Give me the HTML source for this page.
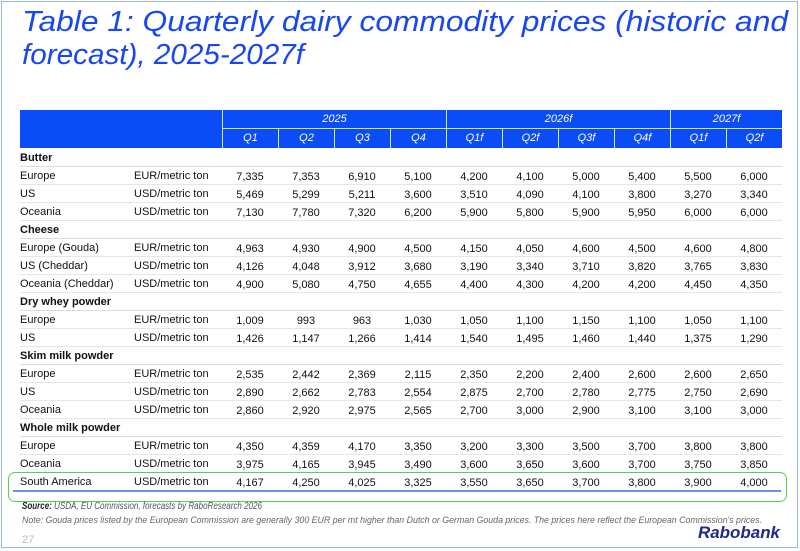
<!DOCTYPE html>
<html><head><meta charset="utf-8"><style>
body{margin:0;background:#fff;}
#wrap{position:relative;width:800px;height:551px;overflow:hidden;font-family:"Liberation Sans",sans-serif;}
.abs{position:absolute;}
.cell{position:absolute;font-size:11px;color:#111;line-height:18px;white-space:nowrap;}
.num{text-align:center;width:56px;}
.hd{position:absolute;color:#fff;font-style:italic;font-size:11px;text-align:center;}
</style></head><body>
<div id="wrap">
<div class="abs" style="left:1px;top:1px;width:795px;height:545px;border:1.5px solid #9db4e8;"></div>
<svg class="abs" style="left:0;top:0" width="800" height="80">
<text x="22" y="31" font-family="Liberation Sans" font-style="italic" font-size="29" fill="#1747f5" textLength="766" lengthAdjust="spacingAndGlyphs">Table 1: Quarterly dairy commodity prices (historic and</text>
<text x="22" y="64" font-family="Liberation Sans" font-style="italic" font-size="29" fill="#1747f5" textLength="282" lengthAdjust="spacingAndGlyphs">forecast), 2025-2027f</text>
</svg>
<div id="table"></div>
<div class="abs" style="left:8px;top:472px;width:777px;height:28px;border:1.5px solid #55d055;border-radius:7px;"></div>
<div class="abs" style="left:13px;top:490px;width:768px;height:2px;background:#6e90e6;"></div>
<svg class="abs" style="left:0;top:496px" width="800" height="55">
<text x="22" y="13" font-family="Liberation Sans" font-style="italic" font-size="10" fill="#555" textLength="240" lengthAdjust="spacingAndGlyphs"><tspan font-weight="bold" fill="#222">Source:</tspan> USDA, EU Commission, forecasts by RaboResearch 2026</text>
<text x="22" y="27" font-family="Liberation Sans" font-style="italic" font-size="9" fill="#666" textLength="740" lengthAdjust="spacingAndGlyphs">Note: Gouda prices listed by the European Commission are generally 300 EUR per mt higher than Dutch or German Gouda prices. The prices here reflect the European Commission's prices.</text>
<text x="22" y="47" font-family="Liberation Sans" font-size="11" fill="#bbb">27</text>
<text x="780" y="42" text-anchor="end" font-family="Liberation Sans" font-style="italic" font-weight="bold" font-size="17" fill="#1c2a8c" textLength="82" lengthAdjust="spacingAndGlyphs">Rabobank</text>
</svg>
</div>
<script>
const years=["2025","2026f","2027f"];
const yearCols=[4,4,2];
const quarters=["Q1","Q2","Q3","Q4","Q1f","Q2f","Q3f","Q4f","Q1f","Q2f"];
const groups=["Butter","Cheese","Dry whey powder","Skim milk powder","Whole milk powder"];
const regions=[["Europe","US","Oceania"],["Europe (Gouda)","US (Cheddar)","Oceania (Cheddar)"],["Europe","US"],["Europe","US","Oceania"],["Europe","Oceania","South America"]];
const units=[["EUR/metric ton","USD/metric ton","USD/metric ton"],["EUR/metric ton","USD/metric ton","USD/metric ton"],["EUR/metric ton","USD/metric ton"],["EUR/metric ton","USD/metric ton","USD/metric ton"],["EUR/metric ton","USD/metric ton","USD/metric ton"]];
const values=[
[["7,335","7,353","6,910","5,100","4,200","4,100","5,000","5,400","5,500","6,000"],
 ["5,469","5,299","5,211","3,600","3,510","4,090","4,100","3,800","3,270","3,340"],
 ["7,130","7,780","7,320","6,200","5,900","5,800","5,900","5,950","6,000","6,000"]],
[["4,963","4,930","4,900","4,500","4,150","4,050","4,600","4,500","4,600","4,800"],
 ["4,126","4,048","3,912","3,680","3,190","3,340","3,710","3,820","3,765","3,830"],
 ["4,900","5,080","4,750","4,655","4,400","4,300","4,200","4,200","4,450","4,350"]],
[["1,009","993","963","1,030","1,050","1,100","1,150","1,100","1,050","1,100"],
 ["1,426","1,147","1,266","1,414","1,540","1,495","1,460","1,440","1,375","1,290"]],
[["2,535","2,442","2,369","2,115","2,350","2,200","2,400","2,600","2,600","2,650"],
 ["2,890","2,662","2,783","2,554","2,875","2,700","2,780","2,775","2,750","2,690"],
 ["2,860","2,920","2,975","2,565","2,700","3,000","2,900","3,100","3,100","3,000"]],
[["4,350","4,359","4,170","3,350","3,200","3,300","3,500","3,700","3,800","3,800"],
 ["3,975","4,165","3,945","3,490","3,600","3,650","3,600","3,700","3,750","3,850"],
 ["4,167","4,250","4,025","3,325","3,550","3,650","3,700","3,800","3,900","4,000"]]];

const T=document.getElementById('table');
const X0=222,CW=56,TOP=110,RH=18,BODY=149;
function colX(i){return X0+i*CW;}
function add(tag,css,text){const e=document.createElement(tag);e.style.cssText=css;if(text!==undefined)e.textContent=text;T.appendChild(e);return e;}
let hb=add('div','position:absolute;left:20px;top:'+TOP+'px;width:'+(colX(10)-20)+'px;height:38px;background:#0a4cf5;');


let c=0;
years.forEach((y,k)=>{
  const x=colX(c),w=yearCols[k]*CW;
  const e=add('div','left:'+x+'px;top:'+TOP+'px;width:'+w+'px;height:19px;line-height:19px;border-left:1px solid #cfe0ff;border-bottom:1px solid #cfe0ff;box-sizing:border-box;',y);
  e.className='hd';
  
  
  c+=yearCols[k];
});
quarters.forEach((q,i)=>{
  const e=add('div','left:'+colX(i)+'px;top:'+(TOP+19)+'px;width:'+CW+'px;height:19px;line-height:19px;border-left:1px solid #cfe0ff;box-sizing:border-box;',q);
  e.className='hd';
  
  
});
let r=0;
groups.forEach((g,gi)=>{
  const top=BODY+r*RH;
  const h=add('div','left:20px;top:'+top+'px;font-weight:bold;',g);
  h.className='cell';
  
  
  const ln=add('div','position:absolute;left:20px;top:'+(top+RH-1)+'px;width:'+(colX(10)-20)+'px;height:1px;background:#dcdcdc;');
  
  
  r++;
  regions[gi].forEach((reg,ri)=>{
    const t=BODY+r*RH;
    const a=add('div','left:20px;top:'+t+'px;',reg);a.className='cell';
    
    
    const u=add('div','left:134px;top:'+t+'px;',units[gi][ri]);u.className='cell';
    
    
    values[gi][ri].forEach((v,vi)=>{
      const n=add('div','left:'+colX(vi)+'px;top:'+(t+1)+'px;',v);n.className='cell num';
      
      
    });
    const l2=add('div','position:absolute;left:20px;top:'+(t+RH-1)+'px;width:'+(colX(10)-20)+'px;height:1px;background:#e6e6e6;');
    
    
    r++;
  });
});
</script>
</body></html>
